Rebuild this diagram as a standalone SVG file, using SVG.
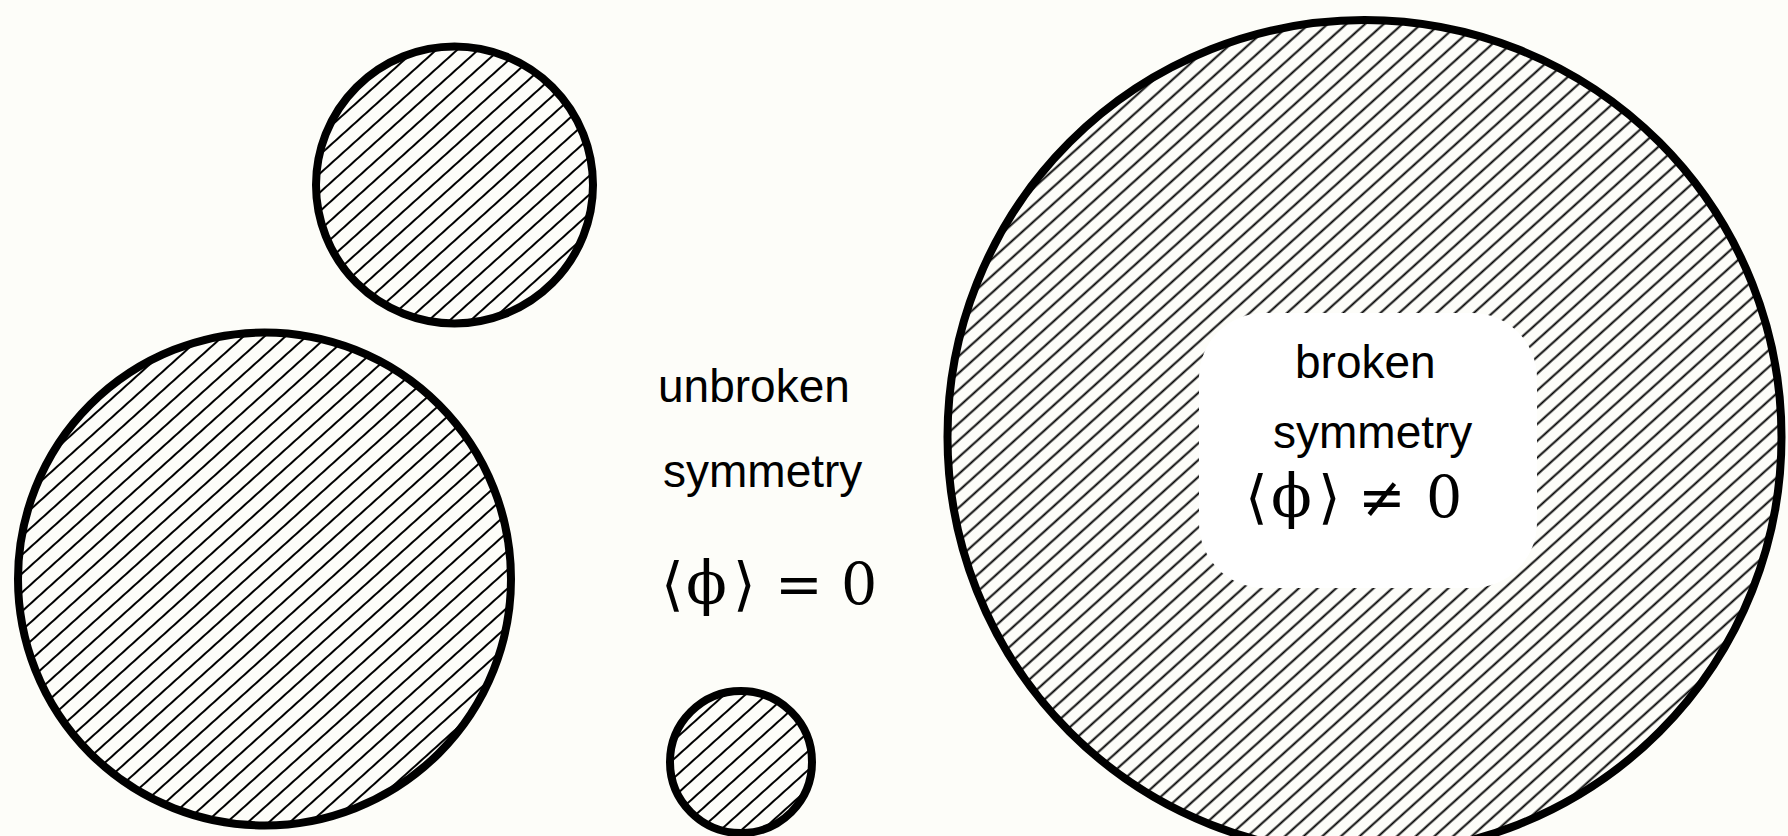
<svg xmlns="http://www.w3.org/2000/svg" width="1788" height="836" viewBox="0 0 1788 836">
  <defs>
    <pattern id="hatch" patternUnits="userSpaceOnUse" width="40" height="14" patternTransform="rotate(-42)">
      <line x1="0" y1="7" x2="40" y2="7" stroke="#000" stroke-width="2"/>
    </pattern>
    <pattern id="hatchFine" patternUnits="userSpaceOnUse" width="40" height="12.5" patternTransform="rotate(-42)">
      <line x1="0" y1="6.25" x2="40" y2="6.25" stroke="#000" stroke-width="2"/>
    </pattern>
  </defs>
  <style>
    .blob { stroke: #000; stroke-width: 8; }
    .lbl { font-family: "Liberation Sans", Arial, sans-serif; font-size: 46px; fill: #000; }
    .math { font-family: "DejaVu Serif", "Liberation Serif", serif; fill: #000; }
    .br { font-size: 58px; }
    .ph { font-size: 60px; }
    .op { font-size: 57px; }
  </style>
  <rect x="0" y="0" width="1788" height="836" fill="#fdfdf9"/>

  <g id="circle-top">
    <circle class="blob" cx="454.5" cy="185" r="138.5" fill="url(#hatch)"/>
  </g>
  <g id="circle-left">
    <circle class="blob" cx="264.5" cy="579" r="246.5" fill="url(#hatch)"/>
  </g>
  <g id="circle-bottom">
    <circle class="blob" cx="741" cy="762" r="71" fill="url(#hatch)"/>
  </g>
  <g id="circle-right">
    <circle class="blob" cx="1364.5" cy="437" r="417" fill="url(#hatchFine)"/>
    <rect x="1199" y="313" width="338" height="275" rx="65" ry="65" fill="#ffffff"/>
    <text class="lbl" x="1295" y="378">broken</text>
    <text class="lbl" x="1273" y="448">symmetry</text>
    <text class="math" y="517"><tspan class="br" x="1245">⟨</tspan><tspan class="ph" x="1271">ϕ</tspan><tspan class="br" x="1318">⟩</tspan><tspan class="op" x="1358">≠</tspan><tspan class="op" x="1426">0</tspan></text>
  </g>

  <g id="label-unbroken">
    <text class="lbl" x="658" y="402">unbroken</text>
    <text class="lbl" x="663" y="487">symmetry</text>
    <text class="math" y="604"><tspan class="br" x="661">⟨</tspan><tspan class="ph" x="686">ϕ</tspan><tspan class="br" x="733">⟩</tspan><tspan class="op" x="775">=</tspan><tspan class="op" x="841">0</tspan></text>
  </g>

  <g id="connectors"/>
</svg>
